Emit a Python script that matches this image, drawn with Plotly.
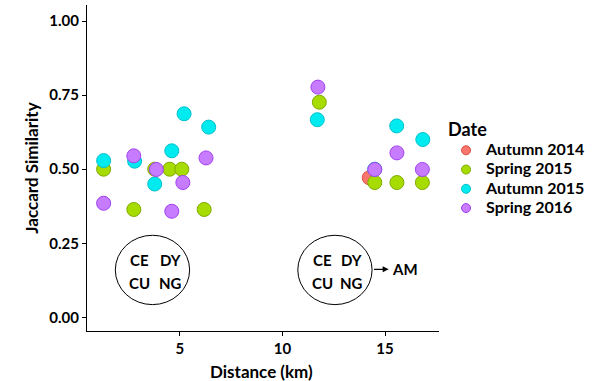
import plotly.graph_objects as go

series_names = ["Autumn 2014", "Spring 2015", "Autumn 2015", "Spring 2016"]
fill_colors = ["#F8766D", "#A6DC00", "#00EBF0", "#C77CFF"]
line_colors = ["#E0503F", "#80AA00", "#00C0CC", "#A040F0"]

x_a14 = [14.23]
y_a14 = [0.471]

x_s15 = [1.29, 2.76, 3.78, 4.51, 5.10, 6.19, 11.80, 14.50, 15.58, 16.82]
y_s15 = [0.500, 0.364, 0.500, 0.500, 0.500, 0.364, 0.726, 0.455, 0.455, 0.455]

x_a15 = [1.29, 2.80, 3.78, 4.61, 5.21, 6.41, 11.70, 14.50, 15.57, 16.84]
y_a15 = [0.529, 0.527, 0.450, 0.562, 0.687, 0.642, 0.667, 0.500, 0.646, 0.600]

x_s16 = [1.29, 2.76, 3.86, 4.61, 5.15, 6.28, 11.73, 14.50, 15.58, 16.82]
y_s16 = [0.385, 0.545, 0.499, 0.358, 0.455, 0.538, 0.777, 0.499, 0.555, 0.499]

xs = [x_a14, x_s15, x_a15, x_s16]
ys = [y_a14, y_s15, y_a15, y_s16]

y_ticks = [0.00, 0.25, 0.50, 0.75, 1.00]
y_tick_labels = ["0.00", "0.25", "0.50", "0.75", "1.00"]
x_ticks = [5, 10, 15]
x_tick_labels = ["5", "10", "15"]

FONT = "Lato"

fig = go.Figure()
for name, x, y, fc, lc in zip(series_names, xs, ys, fill_colors, line_colors):
    fig.add_trace(go.Scatter(
        x=x, y=y, mode="markers", name=name, showlegend=False, legendgroup=name,
        marker=dict(size=14, color=fc, line=dict(color=lc, width=1)),
    ))
# legend entries (smaller symbols, as in the reference key)
for name, fc, lc in zip(series_names, fill_colors, line_colors):
    fig.add_trace(go.Scatter(
        x=[None], y=[None], mode="markers", legendgroup=name,
        name='<span style="font-size:16px"><b>%s</b></span>' % name,
        marker=dict(size=9, color=fc, line=dict(color=lc, width=1)),
    ))

# ellipses
for cx in [3.67, 12.56]:
    fig.add_shape(type="circle", xref="x", yref="y",
                  x0=cx - 1.81, x1=cx + 1.81, y0=0.16 - 0.117, y1=0.16 + 0.117,
                  line=dict(color="black", width=1), layer="below")

labels_top = [("CE", 3.06), ("DY", 4.53), ("CE", 11.93), ("DY", 13.39)]
labels_bot = [("CU", 3.06), ("NG", 4.53), ("CU", 11.93), ("NG", 13.39)]
for t, x in labels_top:
    fig.add_annotation(x=x, y=0.195, text="<b>%s</b>" % t, showarrow=False,
                       font=dict(family=FONT, size=15, color="black"))
for t, x in labels_bot:
    fig.add_annotation(x=x, y=0.117, text="<b>%s</b>" % t, showarrow=False,
                       font=dict(family=FONT, size=15, color="black"))

# arrow to AM
fig.add_annotation(x=15.18, y=0.162, ax=14.39, ay=0.162, xref="x", yref="y",
                   axref="x", ayref="y", text="", showarrow=True,
                   arrowhead=2, arrowsize=1, arrowwidth=1.2, arrowcolor="black")
fig.add_annotation(x=15.98, y=0.162, text="<b>AM</b>", showarrow=False,
                   font=dict(family=FONT, size=15, color="black"))

# axis titles
fig.add_annotation(xref="paper", yref="paper", x=0.495, y=-0.086, yanchor="top",
                   text="<b>Distance (km)</b>", showarrow=False,
                   font=dict(family=FONT, size=17, color="black"))
fig.add_annotation(xref="paper", yref="paper", x=-0.16, y=0.5, xanchor="center",
                   text="<b>Jaccard Similarity</b>", showarrow=False, textangle=-90,
                   font=dict(family=FONT, size=17, color="black"))

fig.update_layout(
    width=597, height=381,
    margin=dict(l=87, r=158, t=5, b=50, autoexpand=False),
    paper_bgcolor="white", plot_bgcolor="white",
    font=dict(family=FONT, size=14, color="black"),
    showlegend=True,
    legend=dict(
        title=dict(text='<span style="font-size:18px"><b>Date</b></span>',
                   font=dict(family=FONT, size=14, color="black")),
        font=dict(family=FONT, size=12.5, color="black"),
        x=1.02, xanchor="left", y=0.655, yanchor="top",
        itemsizing="trace", tracegroupgap=0,
    ),
    xaxis=dict(
        range=[0.48, 17.63], showgrid=False, zeroline=False, automargin=False,
        showline=True, linecolor="black", linewidth=1,
        ticks="outside", ticklen=4, tickcolor="black",
        tickvals=x_ticks, ticktext=["<b>%s</b>" % t for t in x_tick_labels],
        tickfont=dict(family=FONT, size=15, color="black"),
    ),
    yaxis=dict(
        range=[-0.046, 1.054], showgrid=False, zeroline=False, automargin=False,
        showline=True, linecolor="black", linewidth=1,
        ticks="outside", ticklen=4, tickcolor="black",
        tickvals=y_ticks, ticktext=["<b>%s</b>" % t for t in y_tick_labels],
        tickfont=dict(family=FONT, size=15, color="black"),
    ),
)

fig.write_html("out.html", config={"displayModeBar": False},
               post_script="document.body.style.margin='0px';")
